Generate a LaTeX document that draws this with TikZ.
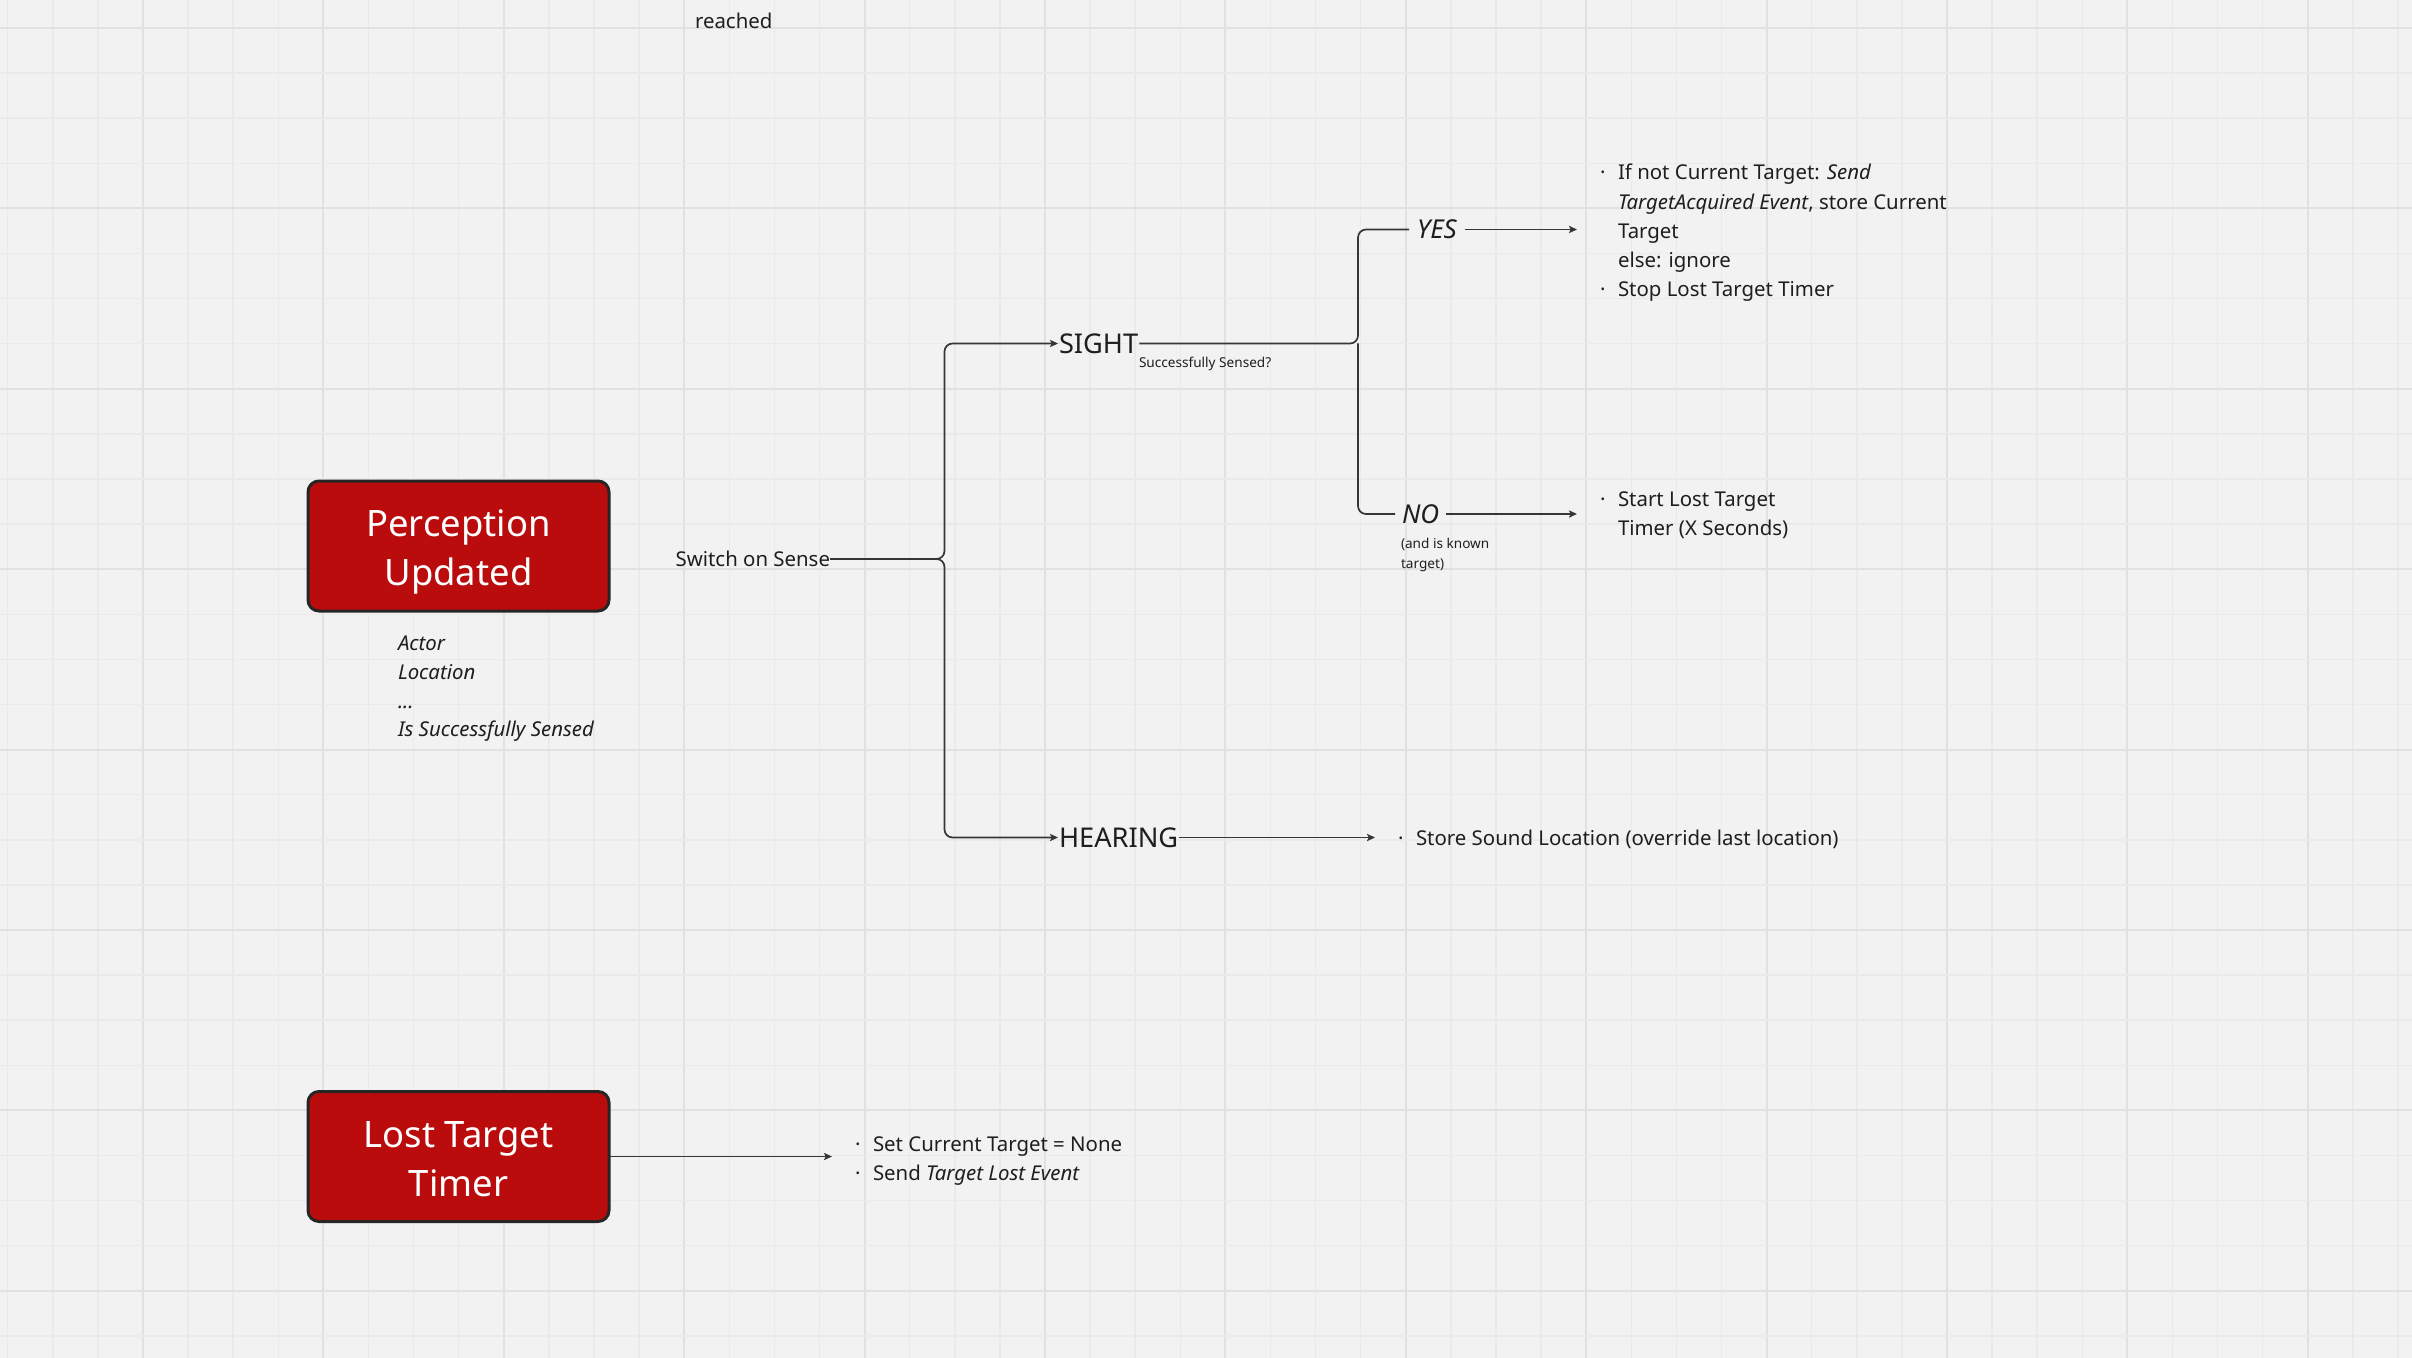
\documentclass[tikz,border=0pt]{standalone}
\usepackage{fontspec}
\setmainfont{Noto Sans}
\usetikzlibrary{arrows.meta}
\definecolor{bg}{HTML}{F2F2F2}
\definecolor{gridminor}{HTML}{EAEAEA}
\definecolor{gridmajor}{HTML}{E1E1E1}
\definecolor{boxred}{HTML}{BA0C0C}
\definecolor{boxedge}{HTML}{262626}
\definecolor{ink}{HTML}{1E1E1E}
\definecolor{wire}{HTML}{363636}
\newcommand\blt{\strut\makebox[9.5pt][l]{\hspace{0.5pt}·}}
\newcommand\ind{\strut\hspace*{9.5pt}}
\newcommand\lowered[2]{\raisebox{-#1}[\height][\depth]{#2}}
\begin{document}
\begin{tikzpicture}[x=0.5pt,y=-0.5pt,
  every node/.style={inner sep=0pt, outer sep=0pt, text=ink},
  redbox/.style={draw=boxedge, line width=1.5pt, fill=boxred, rounded corners=5.5pt,
    minimum width=150.5pt, minimum height=65pt, text=white, align=center,
    font=\fontsize{18.2}{24.5}\selectfont},
  body/.style={font=\fontsize{10.2}{14.6}\selectfont, align=left},
  tiny/.style={font=\fontsize{6.8}{10}\selectfont, align=left},
  sense/.style={font=\fontsize{13.6}{16}\selectfont, inner xsep=0.5pt},
  answer/.style={font=\fontsize{13}{15}\selectfont\itshape, inner xsep=4pt},
  wirestyle/.style={draw=wire, line width=0.85pt, rounded corners=4pt},
  arr/.style={wirestyle, -{Stealth[length=4pt,width=3.6pt,inset=0.8pt]}},
  listarr/.style={arr, shorten >=11pt}
]
\useasboundingbox (0,0) rectangle (2412,1358);
\fill[bg] (0,0) rectangle (2412,1358);
% grid
\foreach \k in {0,...,53} {
  \pgfmathsetmacro\xx{7.7+45.1*\k}
  \pgfmathtruncatemacro\m{mod(\k,4)}
  \ifnum\m=3
    \draw[gridmajor, line width=1pt] (\xx,0) -- (\xx,1358);
  \else
    \draw[gridminor, line width=0.75pt] (\xx,0) -- (\xx,1358);
  \fi
}
\foreach \k in {0,...,29} {
  \pgfmathsetmacro\yy{28+45.1*\k}
  \pgfmathtruncatemacro\m{mod(\k,4)}
  \ifnum\m=0
    \draw[gridmajor, line width=1pt] (0,\yy) -- (2412,\yy);
  \else
    \draw[gridminor, line width=0.75pt] (0,\yy) -- (2412,\yy);
  \fi
}

% top clipped text
\node[body, anchor=base west] (reached) at (695,28.5) {reached};

% boxes
\node[redbox] (pu) at (458.5,546) {\lowered{3pt}{Perception}\\\lowered{3pt}{Updated}};
\node[redbox] (lt) at (458.5,1156.5) {\lowered{1.3pt}{Lost Target}\\\lowered{1.3pt}{Timer}};

\node[body, anchor=west, font=\fontsize{10.2}{14.4}\selectfont\itshape] (attrs) at (398,688)
  {\strut Actor\\ \strut Location\\ \strut ...\\ \strut Is Successfully Sensed};

% switch
\node[body, anchor=east] (sw) at (830,559) {Switch on Sense};
\coordinate (bus) at (944.5,559);

\node[sense, anchor=west] (sight) at (1058,343.5) {SIGHT};
\node[sense, anchor=west] (hear) at (1058,837.5) {HEARING};

\draw[arr] (sw.east) -- (bus) |- (sight.west);
\draw[arr] (sw.east) -- (bus) |- (hear.west);

\node[tiny, anchor=west] (sensed) at (1139,364) {Successfully Sensed?};

% yes / no
\node[answer, anchor=west] (yes) at (1409,229.5) {YES};
\node[answer, anchor=west, inner xsep=3.5pt] (no) at (1395,514) {NO};
\node[tiny, anchor=west] (nonote) at (1401,554.5) {\strut(and is known\\ \strut target)};

\coordinate (splitx) at (1358,0);
\coordinate (split) at (sight.east -| splitx);
\draw[wirestyle] (sight.east) -- (split) |- (yes.west);
\draw[wirestyle] (split) |- (no.west);

% lists
\node[body, anchor=west] (yesl) at (1599,232.5)
  {\blt If not Current Target: \textit{Send}\\
   \ind\textit{TargetAcquired Event}, store Current\\
   \ind Target\\
   \ind else: ignore\\
   \blt Stop Lost Target Timer};
\node[body, anchor=west] (nol) at (1599,515.5)
  {\blt Start Lost Target\\ \ind Timer (X Seconds)};
\node[body, anchor=west] (hearl) at (1397,840)
  {\blt Store Sound Location (override last location)};
\node[body, anchor=west] (ltl) at (854,1160.5)
  {\blt Set Current Target = None\\ \blt Send \textit{Target Lost Event}};

\draw[listarr] (yes.east) -- (yes.east -| yesl.west);
\draw[listarr] (no.east) -- (no.east -| nol.west);
\draw[listarr] (hear.east) -- (hear.east -| hearl.west);
\draw[listarr] (lt.east) -- (lt.east -| ltl.west);
\end{tikzpicture}
\end{document}
